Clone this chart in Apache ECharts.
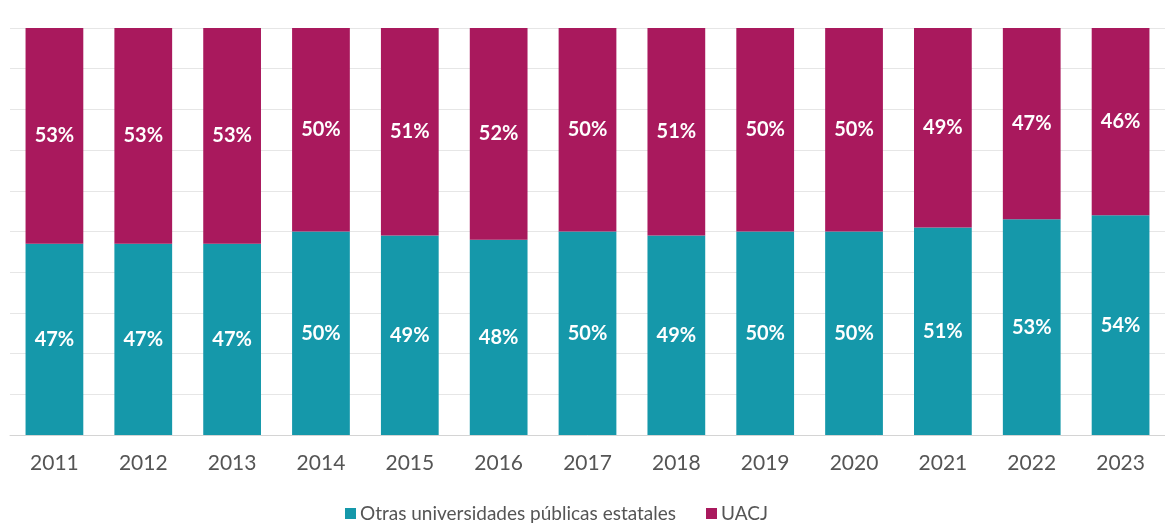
<!DOCTYPE html>
<html>
<head>
<meta charset="utf-8">
<script src="https://cdn.jsdelivr.net/npm/echarts@6/dist/echarts.min.js"></script>
<style>
  html, body { margin: 0; padding: 0; background: #ffffff; }
  #chart { width: 1165px; height: 529px; }
</style>
</head>
<body>
<div id="chart"></div>
<script>
// Share of enrolment by year (percent)
const years = ['2011','2012','2013','2014','2015','2016','2017','2018','2019','2020','2021','2022','2023'];
const otras = [47, 47, 47, 50, 49, 48, 50, 49, 50, 50, 51, 53, 54];
const uacj  = [53, 53, 53, 50, 51, 52, 50, 51, 50, 50, 49, 47, 46];
const seriesNames = ['Otras universidades públicas estatales', 'UACJ'];

const TEAL = '#1598aa';
const PLUM = '#a9195d';
const FONT = 'Lato, "Open Sans", sans-serif';

const label = {
  show: true,
  position: 'inside',
  color: '#ffffff',
  fontFamily: FONT,
  fontWeight: 'bold',
  fontSize: 20,
  formatter: p => p.value + '%'
};

const chart = echarts.init(document.getElementById('chart'));
chart.setOption({
  animation: false,
  grid: { left: 10, right: -2, top: 28, bottom: 94, containLabel: false },
  legend: {
    bottom: 1,
    left: 340,
    itemWidth: 11,
    itemHeight: 11,
    itemGap: 30,
    icon: 'rect',
    textStyle: { fontFamily: FONT, fontSize: 19, color: '#555555', padding: [0, 0, 0, -1] },
    data: seriesNames
  },
  xAxis: {
    type: 'category',
    data: years,
    axisTick: { show: false },
    axisLine: { lineStyle: { color: '#d4d4d4', width: 1 } },
    axisLabel: { color: '#555555', fontFamily: FONT, fontSize: 21, margin: 18 }
  },
  yAxis: {
    type: 'value',
    min: 0,
    max: 100,
    interval: 10,
    axisLabel: { show: false },
    axisLine: { show: false },
    axisTick: { show: false },
    splitLine: { lineStyle: { color: '#e6e6e6', width: 1 } }
  },
  series: [
    {
      name: seriesNames[0],
      type: 'bar',
      stack: 'total',
      data: otras,
      barWidth: '65%',
      itemStyle: { color: TEAL },
      label: label
    },
    {
      name: seriesNames[1],
      type: 'bar',
      stack: 'total',
      data: uacj,
      barWidth: '65%',
      itemStyle: { color: PLUM },
      label: label
    }
  ]
});
</script>
</body>
</html>
